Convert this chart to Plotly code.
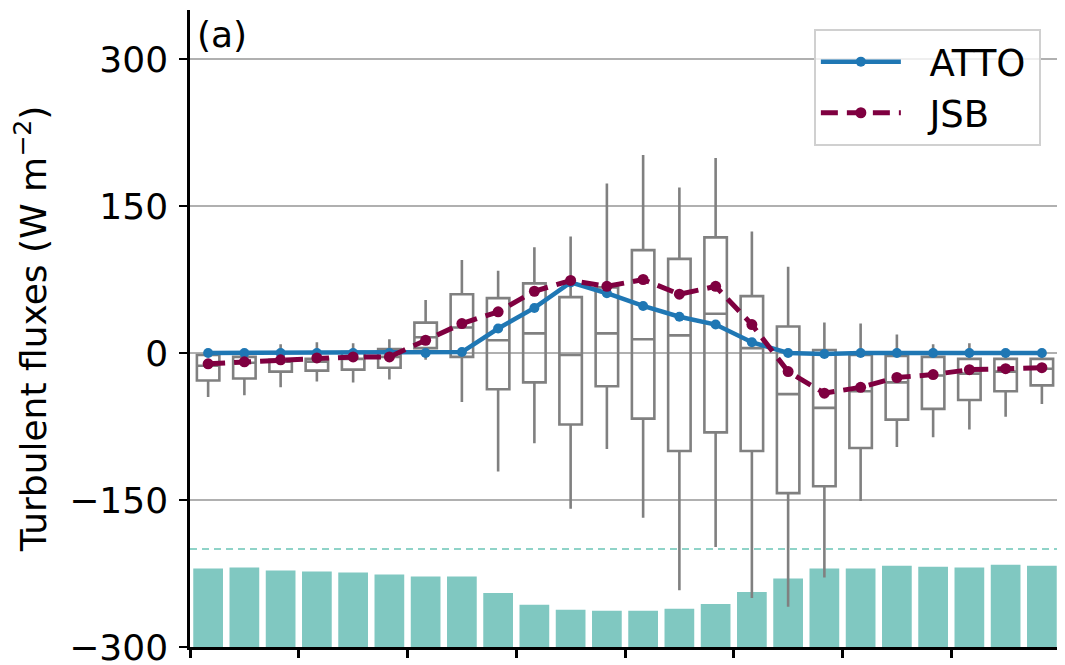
import plotly.graph_objects as go

# hour of day (box positions)
hours = list(range(24))

# observed turbulent flux distribution per hour (W m-2)
box_upper = [-1, -2, 9, 11, 10, 14, 54, 95, 84, 108, 119, 173,
             202, 169, 199, 124, 88, 31, 30, 19, 9, 10, -2, -4]
box_q3 = [-2, -4, -7, -6, 1, 4, 31, 60, 56, 71, 57, 67,
          105, 96, 118, 58, 27, 3, -2, -3, -4, -6, -6, -6]
box_median = [-13, -10, -9, -9, -6, -4, 16, 26, 13, 20, -2, 20,
              14, 18, 40, 5, -42, -56, -39, -30, -23, -21, -19, -16]
box_q1 = [-28, -26, -19, -18, -17, -15, 5, -4, -37, -30, -73, -34,
          -67, -100, -81, -100, -143, -136, -97, -68, -57, -48, -39, -33]
box_lower = [-45, -43, -35, -29, -30, -27, -7, -50, -121, -92, -159, -98,
             -168, -242, -198, -250, -259, -229, -151, -96, -86, -78, -65, -52]

# mean diurnal cycles
atto = [0, 0, 0, 0, 0, 0, 0, 1, 25, 46, 72, 61,
        48, 37, 29, 11, 0, -1, 0, 0, 0, 0, 0, 0]
jsb = [-11, -9, -7, -5, -4, -4, 13, 30, 42, 63, 74, 68,
       75, 60, 68, 29, -19, -41, -35, -25, -22, -17, -16, -15]

# bar tops at bottom of panel (drawn from -300)
bar_top = [-220, -219, -222, -223, -224, -226, -228, -228, -245, -257, -262, -263,
           -263, -261, -256, -244, -230, -220, -220, -217, -218, -219, -216, -217]
bar_base = -300
bar_ref = -200

yticks = [-300, -150, 0, 150, 300]
xticks = [-0.5, 2.5, 5.5, 8.5, 11.5, 14.5, 17.5, 20.5, 23.5]

FONT = "DejaVu Sans"

fig = go.Figure()

fig.add_trace(go.Bar(
    x=hours, y=[t - bar_base for t in bar_top], base=bar_base,
    width=0.82, marker=dict(color="#80c8c1", line=dict(width=0)),
    showlegend=False, hoverinfo="skip", yaxis="y",
))

fig.add_trace(go.Box(
    x=hours, q1=box_q1, median=box_median, q3=box_q3,
    lowerfence=box_lower, upperfence=box_upper,
    width=0.62, whiskerwidth=0, boxpoints=False,
    fillcolor="rgba(0,0,0,0)", line=dict(color="#808080", width=2.6),
    showlegend=False, hoverinfo="skip", yaxis="y2",
))

fig.add_trace(go.Scatter(
    x=hours, y=atto, name="&nbsp;&nbsp;ATTO\u2009", mode="lines+markers",
    line=dict(color="#1f77b4", width=4.5),
    marker=dict(size=10, color="#1f77b4"), yaxis="y2",
))
fig.add_trace(go.Scatter(
    x=hours, y=jsb, name="&nbsp;&nbsp;JSB", mode="lines+markers",
    line=dict(color="#7f0040", width=5, dash="17px,9px"),
    marker=dict(size=11, color="#7f0040"), yaxis="y2",
))

fig.add_shape(type="line", xref="paper", yref="y", x0=0, x1=1,
              y0=bar_ref, y1=bar_ref, layer="below",
              line=dict(color="#8fd3c8", width=2, dash="7px,5px"))

fig.add_annotation(text="(a)", xref="paper", yref="paper", x=0.006, y=0.997,
                   xanchor="left", yanchor="top", showarrow=False,
                   font=dict(family=FONT, size=36, color="black"))

# page body has an 8px margin, so the figure is sized to fit the window
fig.update_layout(
    width=1057, height=657,
    margin=dict(l=182, r=5, t=2, b=18),
    paper_bgcolor="white", plot_bgcolor="white",
    font=dict(family=FONT, size=36, color="black"),
    barmode="overlay",
    legend=dict(
        x=0.978, y=0.970, xanchor="right", yanchor="top",
        font=dict(family=FONT, size=37, color="black"),
        bgcolor="rgba(255,255,255,0.8)", bordercolor="#d0d0d0", borderwidth=2,
        itemwidth=80, tracegroupgap=0,
    ),
    xaxis=dict(
        range=[-0.5, 23.5], tickvals=xticks, showticklabels=False,
        ticks="outside", ticklen=8, tickwidth=2.5, tickcolor="black",
        showline=True, linecolor="black", linewidth=2.5,
        showgrid=False, zeroline=False, automargin=False,
    ),
    yaxis=dict(
        range=[-300, 350], tickvals=yticks,
        ticks="outside", ticklen=8, tickwidth=1.5, tickcolor="black",
        ticklabelstandoff=4, automargin=False, ticklabeloverflow="allow",
        tickfont=dict(family=FONT, size=36),
        showline=True, linecolor="black", linewidth=2.5,
        showgrid=True, gridcolor="#b0b0b0", gridwidth=2, zeroline=False,
        title=dict(text="Turbulent fluxes (W m<sup>−2</sup>)",
                   font=dict(family=FONT, size=36), standoff=12),
    ),
    yaxis2=dict(
        range=[-300, 350], overlaying="y", side="right",
        tickvals=[bar_ref], showticklabels=False, automargin=False,
        ticks="outside", ticklen=8, tickwidth=1.5, tickcolor="black",
        showline=True, linecolor="black", linewidth=2.5,
        showgrid=False, zeroline=False,
    ),
)

fig.write_html("out.html")
